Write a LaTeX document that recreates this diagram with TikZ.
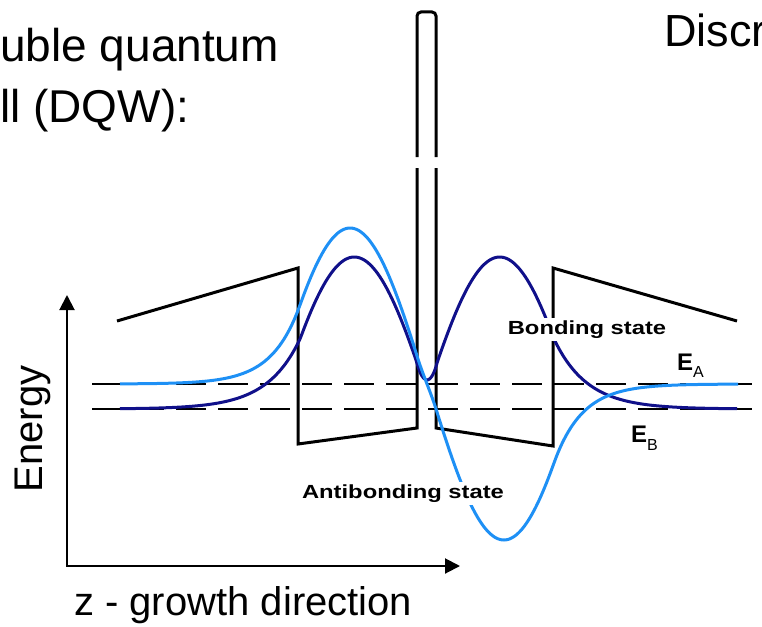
\documentclass[tikz,border=0pt]{standalone}
\usepackage{fontspec}
\setmainfont{Liberation Sans}
\newfontfamily\statefont{Liberation Sans}[FakeStretch=1.25]
\usetikzlibrary{arrows.meta}
\definecolor{bondblue}{HTML}{10108A}
\definecolor{antiblue}{HTML}{1E90F5}
\newcommand{\lowsub}[2]{\raisebox{-#1}{\fontsize{16}{16}\selectfont\mdseries #2}}

\begin{document}
\begin{tikzpicture}[x=1pt,y=-1pt,>={Triangle[length=15pt,width=15pt]},
      pot/.style={line width=3pt,line join=miter},
      lvl/.style={line width=2pt,dash pattern=on 30pt off 12pt},
      wave/.style={line width=3pt,smooth},
      big/.style={font=\fontsize{#1}{#1}\selectfont,inner sep=0pt},big/.default=40,
      lbl/.style={font=\statefont\bfseries\fontsize{19}{22}\selectfont,fill=white,inner sep=2.5pt,anchor=base},
      lev/.style={font=\fontsize{24}{24}\selectfont\bfseries,inner sep=0pt,anchor=base west},
      declare function={
        bw(\x)=(\x<10)?29*cosh(0.103*min(\x,10)):((\x<127)?152*cos(deg(0.02014*(\x-72.7))):70*exp(-0.03*(\x-127)));
        aw(\x)=(abs(\x)<10)?40.2*sinh(0.065*max(min(\x,10),-10)):((\x<0)?-1:1)*((abs(\x)<127)?156*cos(deg(0.02077*(abs(\x)-76.9))):79*exp(-0.0353*(abs(\x)-127)));
      }]
    \useasboundingbox (0,0) rectangle (762,626);
    % energy levels
    \draw[lvl] (92,384) -- (762,384);
    \draw[lvl] (92,409) -- (762,409);
    % potential profile of the DQW
    \draw[pot] (117,321) -- (298,268) -- (298,444) -- (417,428) -- (417,168);
    \draw[pot,rounded corners=4pt] (417,157) -- (417,12) -- (436,12) -- (436,157);
    \draw[pot] (436,168) -- (436,428) -- (553,446) -- (553,268) -- (737,321);
    % wave functions
    \draw[wave,bondblue] plot[domain=120:737,samples=310] (\x,{409-bw(abs(\x-427))});
    \draw[wave,antiblue] plot[domain=120:738,samples=310] (\x,{384+aw(\x-427)});
    \node[lbl] (bs) at (587,334) {Bonding state};
    \node[lbl] (as) at (403,498) {Antibonding state};
    \node[lev] (ea) at (677,370) {E\lowsub{7pt}{A}};
    \node[lev] (eb) at (631,442) {E\lowsub{8pt}{B}};
    % axes
    \coordinate (org) at (67,566);
    \coordinate (etip) at (67,295);
    \coordinate (ztip) at (460,566);
    \draw[line width=2pt,<->] (etip) -- (org) -- (ztip);
    \node[big,rotate=90,anchor=base] (en) at (42,429) {Energy};
    \node[big,anchor=base west] (zd) at (74,615) {z - growth direction};
    \node[big=46,anchor=base west] (t1) at (0,62) {uble quantum};
    \node[big=46,anchor=base west] (t2) at (0,122) {ll (DQW):};
    \node[big=45,anchor=base west] (disc) at (664,47) {Discr};
  \end{tikzpicture}
\end{document}
